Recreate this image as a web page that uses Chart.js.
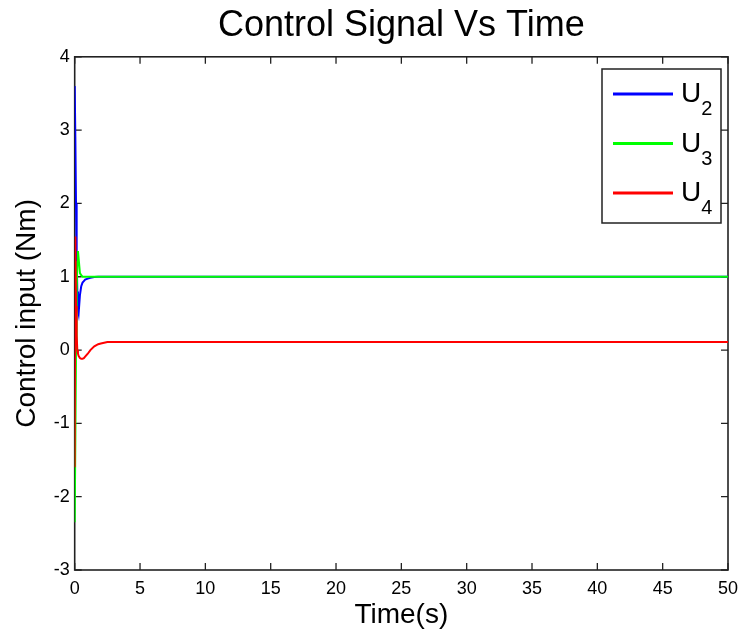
<!DOCTYPE html>
<html>
<head>
<meta charset="utf-8">
<title>Control Signal Vs Time</title>
<script src="https://cdn.jsdelivr.net/npm/chart.js@4/dist/chart.umd.min.js"></script>
<style>
  html, body { margin: 0; padding: 0; background: #ffffff; }
  #wrap { width: 742px; height: 637px; }
</style>
</head>
<body>
<div id="wrap"><canvas id="chart" width="742" height="637"></canvas></div>
<script>
// Simulation time samples (s); dense near t = 0 where the transients are
const timeS = [0, 0.05, 0.1, 0.15, 0.2, 0.25, 0.3, 0.4, 0.5, 0.6, 0.7, 0.8, 1.0, 1.2, 1.5, 1.8, 2.0, 2.5, 3.0, 4.0, 5, 10, 15, 20, 25, 30, 35, 40, 45, 50];

// Control inputs (Nm)
const u2 = [3.6, 2.9, 2.0, 1.3, 0.8, 0.55, 0.5, 0.75, 0.87, 0.92, 0.94, 0.96, 0.975, 0.985, 0.995, 1.0, 1.0, 1.0, 1.0, 1.0, 1.0, 1.0, 1.0, 1.0, 1.0, 1.0, 1.0, 1.0, 1.0, 1.0];
const u3 = [-2.35, -1.2, 0.0, 0.8, 1.2, 1.35, 1.25, 1.05, 1.02, 1.0, 1.0, 1.0, 1.0, 1.0, 1.0, 1.0, 1.0, 1.0, 1.0, 1.0, 1.0, 1.0, 1.0, 1.0, 1.0, 1.0, 1.0, 1.0, 1.0, 1.0];
const u4 = [-1.6, 1.55, 0.6, 0.2, 0.0, -0.05, -0.08, -0.11, -0.12, -0.12, -0.11, -0.09, -0.05, 0.0, 0.05, 0.08, 0.09, 0.11, 0.11, 0.11, 0.11, 0.11, 0.11, 0.11, 0.11, 0.11, 0.11, 0.11, 0.11, 0.11];

// Legend symbol and subscripts
const seriesSymbol = 'U';
const seriesSubscripts = ['2', '3', '4'];

// Axis ticks
const xTicks = [0, 5, 10, 15, 20, 25, 30, 35, 40, 45, 50];
const yTicks = [-3, -2, -1, 0, 1, 2, 3, 4];

const FONT = "'Liberation Sans', Arial, Helvetica, sans-serif";

function toPoints(vals) {
  return timeS.map((t, i) => ({ x: t, y: vals[i] }));
}

// Box frame with inward tick marks on all four sides
const framePlugin = {
  id: 'frame',
  beforeDatasetsDraw(chart) {
    const { ctx, chartArea: a, scales: { x, y } } = chart;
    const len = 7;
    ctx.save();
    ctx.strokeStyle = '#222222';
    ctx.lineWidth = 1.3;
    ctx.beginPath();
    xTicks.forEach(v => {
      const px = x.getPixelForValue(v);
      ctx.moveTo(px, a.bottom); ctx.lineTo(px, a.bottom - len);
      ctx.moveTo(px, a.top); ctx.lineTo(px, a.top + len);
    });
    yTicks.forEach(v => {
      const py = y.getPixelForValue(v);
      ctx.moveTo(a.left, py); ctx.lineTo(a.left + len, py);
      ctx.moveTo(a.right, py); ctx.lineTo(a.right - len, py);
    });
    ctx.stroke();
    ctx.lineWidth = 1.6;
    ctx.strokeRect(a.left, a.top, a.right - a.left, a.bottom - a.top);
    ctx.restore();
  }
};

// Legend box in the upper-right corner with subscripted labels
const subLegendPlugin = {
  id: 'subLegend',
  afterDatasetsDraw(chart) {
    const { ctx } = chart;
    const bx = 602, by = 69, bw = 119, bh = 154;
    ctx.save();
    ctx.fillStyle = '#ffffff';
    ctx.fillRect(bx, by, bw, bh);
    ctx.strokeStyle = '#222222';
    ctx.lineWidth = 1.5;
    ctx.strokeRect(bx, by, bw, bh);
    chart.data.datasets.forEach((ds, i) => {
      const ly = 94 + i * 49.5;
      ctx.strokeStyle = ds.borderColor;
      ctx.lineWidth = 3;
      ctx.beginPath();
      ctx.moveTo(613, ly);
      ctx.lineTo(673, ly);
      ctx.stroke();
      ctx.fillStyle = '#000000';
      ctx.textBaseline = 'alphabetic';
      ctx.textAlign = 'left';
      ctx.font = '28px ' + FONT;
      ctx.fillText(seriesSymbol, 681, ly + 8);
      const w = ctx.measureText(seriesSymbol).width;
      ctx.font = '20px ' + FONT;
      ctx.fillText(seriesSubscripts[i], 681 + w, ly + 21);
    });
    ctx.restore();
  }
};

// Keep the plot box at a fixed place regardless of tick-label overhang
function noScalePadding(s) {
  s.paddingLeft = 0; s.paddingRight = 0; s.paddingTop = 0; s.paddingBottom = 0;
}

new Chart(document.getElementById('chart'), {
  type: 'line',
  data: {
    datasets: [
      { label: 'U2', data: toPoints(u2), borderColor: '#0000ff', order: 3 },
      { label: 'U3', data: toPoints(u3), borderColor: '#00ff00', order: 2 },
      { label: 'U4', data: toPoints(u4), borderColor: '#ff0000', order: 1 }
    ]
  },
  options: {
    responsive: false,
    animation: false,
    devicePixelRatio: 1,
    layout: { padding: { left: 0, right: 14, top: 0, bottom: 0 } },
    elements: {
      line: { borderWidth: 2, tension: 0, fill: false },
      point: { radius: 0, hoverRadius: 0 }
    },
    plugins: {
      legend: { display: false },
      tooltip: { enabled: false },
      title: {
        display: true,
        fullSize: false,
        text: 'Control Signal Vs Time',
        color: '#000000',
        font: { family: FONT, size: 36, weight: 'normal', lineHeight: 1.2 },
        padding: { top: 4, bottom: 9.6 }
      }
    },
    scales: {
      x: {
        type: 'linear',
        min: 0, max: 50,
        afterFit(s) { s.height = 67; noScalePadding(s); },
        afterBuildTicks(s) { s.ticks = xTicks.map(v => ({ value: v })); },
        grid: { display: false, drawTicks: false },
        border: { display: false },
        ticks: { color: '#000000', padding: 8, maxRotation: 0, autoSkip: false, font: { family: FONT, size: 18 } },
        title: {
          display: true, text: 'Time(s)', color: '#000000',
          font: { family: FONT, size: 28, lineHeight: 1.2 },
          padding: { top: 0, bottom: 5 }
        }
      },
      y: {
        type: 'linear',
        min: -3, max: 4,
        afterFit(s) { s.width = 74.7; noScalePadding(s); },
        afterBuildTicks(s) { s.ticks = yTicks.map(v => ({ value: v })); },
        grid: { display: false, drawTicks: false },
        border: { display: false },
        ticks: { color: '#000000', padding: 5, autoSkip: false, font: { family: FONT, size: 18 } },
        title: {
          display: true, text: 'Control input (Nm)', color: '#000000',
          font: { family: FONT, size: 28, lineHeight: 1.2 },
          padding: { top: 10, bottom: 0 }
        }
      }
    }
  },
  plugins: [framePlugin, subLegendPlugin]
});
</script>
</body>
</html>
